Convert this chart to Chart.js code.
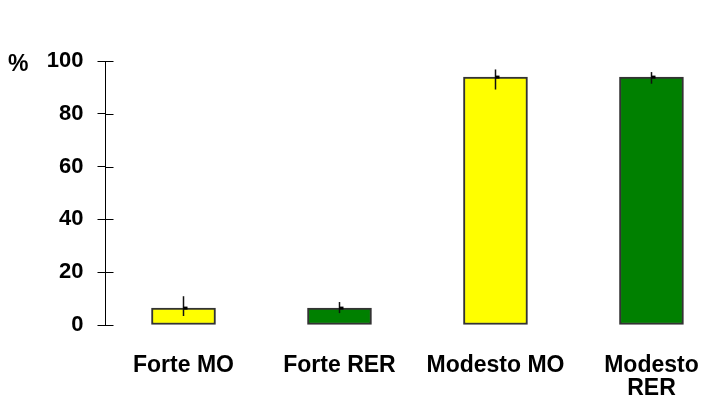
<!DOCTYPE html>
<html>
<head>
<meta charset="utf-8">
<script src="https://cdn.jsdelivr.net/npm/chart.js@4"></script>
<style>
  body { margin: 0; background: #fff; }
</style>
</head>
<body>
<canvas id="chart" width="702" height="401"></canvas>
<script>
const categories = ["Forte MO", "Forte RER", "Modesto MO", ["Modesto", "RER"]];
const pct = [6.4, 6.4, 93.9, 93.9];
const errUp = [4.5, 2.3, 2.9, 1.9];
const errDown = [3.0, 1.9, 4.7, 2.5];
const barColors = ["#ffff00", "#008000", "#ffff00", "#008000"];
const yTicks = [0, 20, 40, 60, 80, 100];

const fontFamily = "'Liberation Sans', Arial, sans-serif";

// error bars, inner half of the y tick marks and the "%" unit
const extras = {
  id: "extras",
  afterDatasetsDraw(chart) {
    const ctx = chart.ctx;
    const y = chart.scales.y;
    const meta = chart.getDatasetMeta(0);
    ctx.save();
    ctx.strokeStyle = "#111";
    ctx.fillStyle = "#000";
    ctx.lineWidth = 1.5;
    meta.data.forEach((bar, i) => {
      const cx = Math.round(bar.x) + 0.5;
      const top = y.getPixelForValue(pct[i] + errUp[i]);
      const bottom = y.getPixelForValue(pct[i] - errDown[i]);
      ctx.beginPath();
      ctx.moveTo(cx, top);
      ctx.lineTo(cx, bottom);
      ctx.stroke();
      ctx.fillRect(cx, bar.y - 1.5, 4, 3);
    });
    ctx.strokeStyle = "#000";
    ctx.lineWidth = 1;
    yTicks.forEach((v) => {
      const py = Math.round(y.getPixelForValue(v)) + 0.5;
      ctx.beginPath();
      ctx.moveTo(y.right, py);
      ctx.lineTo(y.right + 8, py);
      ctx.stroke();
    });
    ctx.font = "bold 23px " + fontFamily;
    ctx.textAlign = "left";
    ctx.textBaseline = "middle";
    ctx.fillText("%", 8, y.getPixelForValue(100) + 4);
    ctx.restore();
  },
};

new Chart("chart", {
  type: "bar",
  data: {
    datasets: [
      {
        data: pct.map((v, i) => ({ x: i, y: v })),
        backgroundColor: barColors,
        borderColor: "#333",
        borderWidth: 2,
        borderSkipped: false,
        barThickness: 64,
      },
    ],
  },
  options: {
    responsive: false,
    animation: false,
    layout: {
      padding: { top: 61, left: 47.5, right: 0, bottom: 0 },
    },
    plugins: {
      legend: { display: false },
      tooltip: { enabled: false },
    },
    scales: {
      x: {
        type: "linear",
        offset: false,
        min: -0.5,
        max: 3.324,
        afterBuildTicks: (scale) => {
          scale.ticks = categories.map((_, i) => ({ value: i }));
        },
        afterFit: (scale) => {
          scale.height = 76;
          scale.paddingLeft = 0;
          scale.paddingRight = 0;
        },
        ticks: {
          callback: (v) => categories[v],
          color: "#000",
          padding: 29,
          maxRotation: 0,
          autoSkip: false,
          font: { family: fontFamily, size: 23, weight: "bold", lineHeight: 1.0 },
        },
        grid: { display: false, drawTicks: false },
        border: { display: false },
      },
      y: {
        min: 0,
        max: 100,
        afterFit: (scale) => {
          scale.width = 58;
        },
        ticks: {
          stepSize: 20,
          color: "#000",
          padding: 14,
          font: { family: fontFamily, size: 22, weight: "bold" },
        },
        grid: {
          drawOnChartArea: false,
          tickLength: 8,
          color: "#000",
        },
        border: { color: "#000", width: 1 },
      },
    },
  },
  plugins: [extras],
});
</script>
</body>
</html>
